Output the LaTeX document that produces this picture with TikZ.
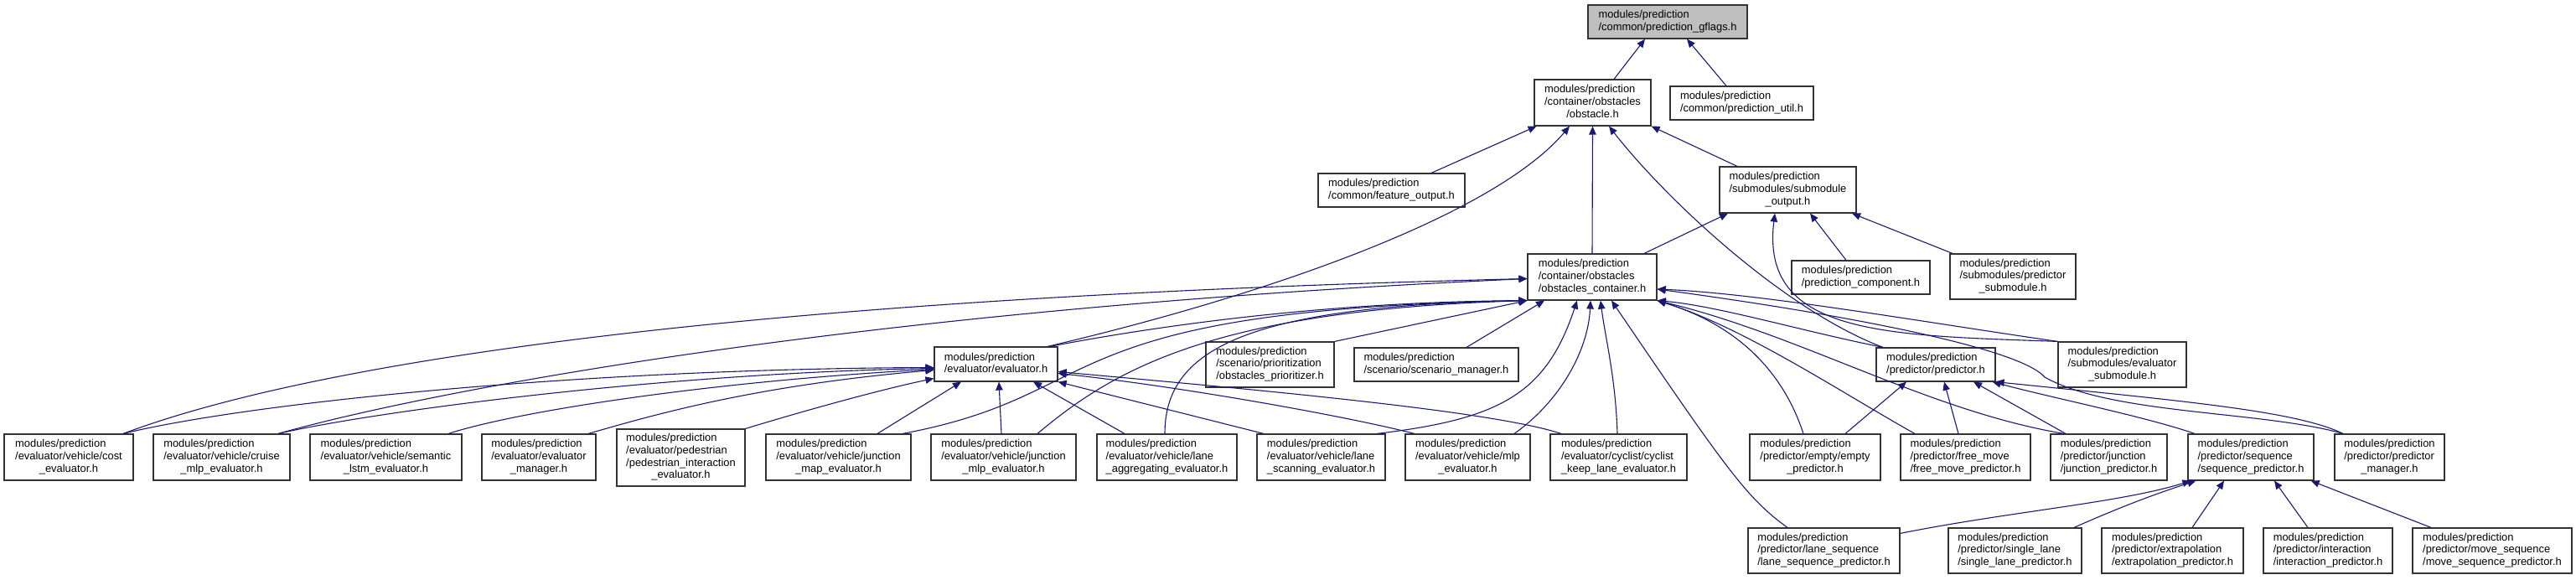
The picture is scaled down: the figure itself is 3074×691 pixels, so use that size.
\documentclass[tikz,border=0pt]{standalone}
\usepackage{fontspec}
\setmainfont{Liberation Sans}
\usetikzlibrary{arrows.meta}
\definecolor{navyc}{RGB}{25,25,112}
\newcommand\nfont{\fontsize{12.9pt}{14.7pt}\selectfont}
\newcommand\Tb[2]{\begin{tabular}{@{}l@{}}#1\\\multicolumn{1}{@{}c@{}}{#2}\end{tabular}}
\newcommand\Tc[3]{\begin{tabular}{@{}l@{}}#1\\#2\\\multicolumn{1}{@{}c@{}}{#3}\end{tabular}}
\newcommand\Td[4]{\begin{tabular}{@{}l@{}}#1\\#2\\#3\\\multicolumn{1}{@{}c@{}}{#4}\end{tabular}}
\newcommand\MP{modules/prediction}
\begin{document}
\begin{tikzpicture}[x=1pt,y=-1pt,
  box/.style={draw=black!80,line width=1.2pt,fill=white,inner sep=0pt,font=\nfont,align=center},
  incl/.style={draw=navyc,line width=1.1pt,-{Triangle[length=10pt,width=8.5pt]}}]
\useasboundingbox (0,0) rectangle (3074,691);
% ---- nodes ----
\node[box,fill=black!25,minimum width=190pt,minimum height=40pt] (gflags) at (1990,26) {\Tb{\MP}{/common/prediction\_gflags.h}};
\node[box,minimum width=171pt,minimum height=40pt] (util) at (2078.5,123) {\Tb{\MP}{/common/prediction\_util.h}};
\node[box,minimum width=139pt,minimum height=55pt] (obstacle) at (1900.5,122.5) {\Tc{\MP}{/container/obstacles}{/obstacle.h}};
\node[box,minimum width=175pt,minimum height=40pt] (feature) at (1660.5,227) {\Tb{\MP}{/common/feature\_output.h}};
\node[box,minimum width=163pt,minimum height=55pt] (subout) at (2133.5,226.5) {\Tc{\MP}{/submodules/submodule}{\_output.h}};
\node[box,minimum width=154pt,minimum height=55pt] (container) at (1900,330.5) {\Tc{\MP}{/container/obstacles}{/obstacles\_container.h}};
\node[box,minimum width=165pt,minimum height=40pt] (component) at (2220.5,331) {\Tb{\MP}{/prediction\_component.h}};
\node[box,minimum width=150pt,minimum height=54pt] (predsub) at (2402,330) {\Tc{\MP}{/submodules/predictor}{\_submodule.h}};
\node[box,minimum width=147pt,minimum height=41pt] (evaluator) at (1188.5,434.5) {\Tb{\MP}{/evaluator/evaluator.h}};
\node[box,minimum width=153pt,minimum height=54pt] (prioritizer) at (1515.5,435) {\Tc{\MP}{/scenario/prioritization}{/obstacles\_prioritizer.h}};
\node[box,minimum width=196pt,minimum height=40pt] (scenario) at (1714,435) {\Tb{\MP}{/scenario/scenario\_manager.h}};
\node[box,minimum width=142pt,minimum height=40pt] (predictor) at (2310,435) {\Tb{\MP}{/predictor/predictor.h}};
\node[box,minimum width=153pt,minimum height=54pt] (evalsub) at (2532.5,435) {\Tc{\MP}{/submodules/evaluator}{\_submodule.h}};
% row of evaluators / predictors
\node[box,minimum width=154pt,minimum height=55pt] (cost) at (82,545.5) {\Tc{\MP}{/evaluator/vehicle/cost}{\_evaluator.h}};
\node[box,minimum width=163pt,minimum height=55pt] (cruise) at (264.5,545.5) {\Tc{\MP}{/evaluator/vehicle/cruise}{\_mlp\_evaluator.h}};
\node[box,minimum width=181pt,minimum height=55pt] (semantic) at (460.5,545.5) {\Tc{\MP}{/evaluator/vehicle/semantic}{\_lstm\_evaluator.h}};
\node[box,minimum width=136pt,minimum height=55pt] (evmgr) at (643,545.5) {\Tc{\MP}{/evaluator/evaluator}{\_manager.h}};
\node[box,minimum width=153pt,minimum height=68pt] (pedestrian) at (812.5,546) {\Td{\MP}{/evaluator/pedestrian}{/pedestrian\_interaction}{\_evaluator.h}};
\node[box,minimum width=173pt,minimum height=55pt] (jmap) at (1000.5,545.5) {\Tc{\MP}{/evaluator/vehicle/junction}{\_map\_evaluator.h}};
\node[box,minimum width=173pt,minimum height=55pt] (jmlp) at (1197.5,545.5) {\Tc{\MP}{/evaluator/vehicle/junction}{\_mlp\_evaluator.h}};
\node[box,minimum width=167pt,minimum height=55pt] (laneagg) at (1392.5,545.5) {\Tc{\MP}{/evaluator/vehicle/lane}{\_aggregating\_evaluator.h}};
\node[box,minimum width=153pt,minimum height=55pt] (lanescan) at (1576.5,545.5) {\Tc{\MP}{/evaluator/vehicle/lane}{\_scanning\_evaluator.h}};
\node[box,minimum width=149pt,minimum height=55pt] (mlp) at (1751.5,545.5) {\Tc{\MP}{/evaluator/vehicle/mlp}{\_evaluator.h}};
\node[box,minimum width=163pt,minimum height=55pt] (cyclist) at (1931.5,545.5) {\Tc{\MP}{/evaluator/cyclist/cyclist}{\_keep\_lane\_evaluator.h}};
\node[box,minimum width=156pt,minimum height=55pt] (empty) at (2166,545.5) {\Tc{\MP}{/predictor/empty/empty}{\_predictor.h}};
\node[box,minimum width=155pt,minimum height=55pt] (freemove) at (2345.5,545.5) {\Tc{\MP}{/predictor/free\_move}{/free\_move\_predictor.h}};
\node[box,minimum width=139pt,minimum height=55pt] (junctionpred) at (2516.5,545.5) {\Tc{\MP}{/predictor/junction}{/junction\_predictor.h}};
\node[box,minimum width=150pt,minimum height=55pt] (seqpred) at (2686,545.5) {\Tc{\MP}{/predictor/sequence}{/sequence\_predictor.h}};
\node[box,minimum width=131pt,minimum height=55pt] (predmgr) at (2851.5,545.5) {\Tc{\MP}{/predictor/predictor}{\_manager.h}};
% bottom row
\node[box,minimum width=181pt,minimum height=54pt] (laneseq) at (2176.5,657) {\Tc{\MP}{/predictor/lane\_sequence}{/lane\_sequence\_predictor.h}};
\node[box,minimum width=159pt,minimum height=54pt] (singlelane) at (2404.5,657) {\Tc{\MP}{/predictor/single\_lane}{/single\_lane\_predictor.h}};
\node[box,minimum width=169pt,minimum height=54pt] (extrap) at (2592.5,657) {\Tc{\MP}{/predictor/extrapolation}{/extrapolation\_predictor.h}};
\node[box,minimum width=154pt,minimum height=54pt] (interaction) at (2778,657) {\Tc{\MP}{/predictor/interaction}{/interaction\_predictor.h}};
\node[box,minimum width=190pt,minimum height=54pt] (moveseq) at (2974,657) {\Tc{\MP}{/predictor/move\_sequence}{/move\_sequence\_predictor.h}};
% ---- edges ----
\draw[incl] ([xshift=25.5pt]obstacle.north) -- ([xshift=-27pt]gflags.south);
\draw[incl] ([xshift=-18.5pt]util.north) -- ([xshift=23pt]gflags.south);
\draw[incl] ([xshift=47.5pt]feature.north) -- ([xshift=-67pt]obstacle.south);
\draw[incl] ([xshift=61.5pt]evaluator.north) .. controls (1500,355) and (1780,260) .. ([xshift=-27.5pt]obstacle.south);
\draw[incl] (container.north) -- (obstacle.south);
\draw[incl] ([xshift=-63pt]predictor.north) .. controls (2130,370) and (1990,240) .. ([xshift=19.5pt]obstacle.south);
\draw[incl] ([xshift=-60.5pt]subout.north) -- (obstacle.south east);
\draw[incl] ([xshift=62pt]container.north) -- ([xshift=-71.5pt]subout.south);
\draw[incl] ([xshift=-17.5pt]component.north) -- ([xshift=26.5pt]subout.south);
\draw[incl] ([xshift=-72pt]predsub.north) -- ([xshift=76.5pt]subout.south);
\draw[incl] (evalsub.north west) .. controls (2250,400) and (2100,400) .. ([xshift=-15.5pt]subout.south);
% into obstacles_container
\draw[incl] ([xshift=65pt]cost.north) .. controls (300,460) and (700,360) .. ([yshift=-2pt]container.west);
\draw[incl] ([xshift=67.5pt]cruise.north) .. controls (500,470) and (1000,370) .. ([yshift=-2pt]container.west);
\draw[incl] ([xshift=64.5pt]evaluator.north) .. controls (1400,385) and (1600,360) .. (container.south west);
\draw[incl] ([xshift=76.5pt]jmap.north) .. controls (1330,470) and (1240,370) .. (container.south west);
\draw[incl] ([xshift=40.5pt]jmlp.north) .. controls (1330,440) and (1450,370) .. (container.south west);
\draw[incl] ([xshift=-2.5pt]laneagg.north) .. controls (1390,420) and (1480,365) .. (container.south west);
\draw[incl] (prioritizer.north east) -- (container.south west);
\draw[incl] ([xshift=36pt]scenario.north) -- ([xshift=-57pt]container.south);
\draw[incl] ([xshift=66.5pt]lanescan.north) .. controls (1790,500) and (1845,470) .. ([xshift=-18pt]container.south);
\draw[incl] ([xshift=55.5pt]mlp.north) .. controls (1860,480) and (1895,420) .. ([xshift=-2pt]container.south);
\draw[incl] ([xshift=-1.5pt]cyclist.north) .. controls (1928,450) and (1915,400) .. ([xshift=10pt]container.south);
\draw[incl] ([xshift=-43.5pt]laneseq.north) .. controls (2085,595) and (2060,560) .. ([xshift=23pt]container.south);
\draw[incl] ([xshift=-63pt]predictor.north) .. controls (2150,395) and (2050,365) .. (container.south east);
\draw[incl] ([xshift=-60.5pt]freemove.north) .. controls (2200,470) and (2080,390) .. (container.south east);
\draw[incl] ([xshift=-53.5pt]junctionpred.north) .. controls (2300,490) and (2150,400) .. (container.south east);
\draw[incl] ([xshift=-14pt]empty.north) .. controls (2130,450) and (2080,390) .. (container.south east);
\draw[incl] (evalsub.north west) .. controls (2300,385) and (2100,350) .. ([yshift=-14.5pt]container.east);
\coordinate (k29) at (2440,450);
\draw[incl] ([xshift=-55.5pt]predmgr.north) .. controls (2700,490) and (2520,495) .. (k29)
  .. controls (2410,415) and (2200,375) .. ([yshift=-14.5pt]container.east);
% into predictor.h
\draw[incl] ([xshift=36pt]empty.north) -- ([xshift=-35pt]predictor.south);
\draw[incl] ([xshift=-8.5pt]freemove.north) -- ([xshift=10pt]predictor.south);
\draw[incl] ([xshift=-51.5pt]junctionpred.north) -- ([xshift=45pt]predictor.south);
\draw[incl] ([xshift=-67pt]seqpred.north) .. controls (2560,497) and (2450,475) .. ([xshift=-4pt]predictor.south east);
\draw[incl] ([xshift=-55.5pt]predmgr.north) .. controls (2740,490) and (2600,478) .. (predictor.south east);
% into sequence_predictor.h
\draw[incl] ([yshift=-7pt]laneseq.north east) .. controls (2400,610) and (2530,600) .. ([xshift=4pt]seqpred.south west);
\draw[incl] ([xshift=70.5pt]singlelane.north) .. controls (2530,605) and (2570,590) .. ([xshift=10pt]seqpred.south west);
\draw[incl] ([xshift=23.5pt]extrap.north) -- ([xshift=-32pt]seqpred.south);
\draw[incl] ([xshift=-24pt]interaction.north) -- ([xshift=28pt]seqpred.south);
\draw[incl] ([xshift=-73pt]moveseq.north) -- ([xshift=-4pt]seqpred.south east);
% into evaluator.h
\draw[incl] ([xshift=65pt]cost.north) .. controls (300,480) and (700,440) .. ([yshift=-4pt]evaluator.west);
\draw[incl] ([xshift=67.5pt]cruise.north) .. controls (450,490) and (800,445) .. ([yshift=-5pt]evaluator.west);
\draw[incl] ([xshift=74.5pt]semantic.north) .. controls (620,490) and (850,455) .. ([yshift=-6pt]evaluator.west);
\draw[incl] ([xshift=59pt]evmgr.north) .. controls (780,495) and (900,460) .. ([yshift=-7pt]evaluator.west);
\draw[incl] (pedestrian.north east) .. controls (960,490) and (1050,465) .. ([yshift=-17pt]evaluator.west);
\draw[incl] ([xshift=46.5pt]jmap.north) -- ([xshift=-41.5pt]evaluator.south);
\draw[incl] ([xshift=-2.5pt]jmlp.north) -- ([xshift=3.5pt]evaluator.south);
\draw[incl] ([xshift=-50.5pt]laneagg.north) -- ([xshift=44.5pt]evaluator.south);
\draw[incl] ([xshift=-68.5pt]lanescan.north) -- (evaluator.south east);
\draw[incl] ([xshift=-63.5pt]mlp.north) .. controls (1600,495) and (1400,460) .. ([yshift=-11pt]evaluator.east);
\draw[incl] ([xshift=-68.5pt]cyclist.north) .. controls (1780,490) and (1500,465) .. ([yshift=-9pt]evaluator.east);
\end{tikzpicture}
\end{document}
